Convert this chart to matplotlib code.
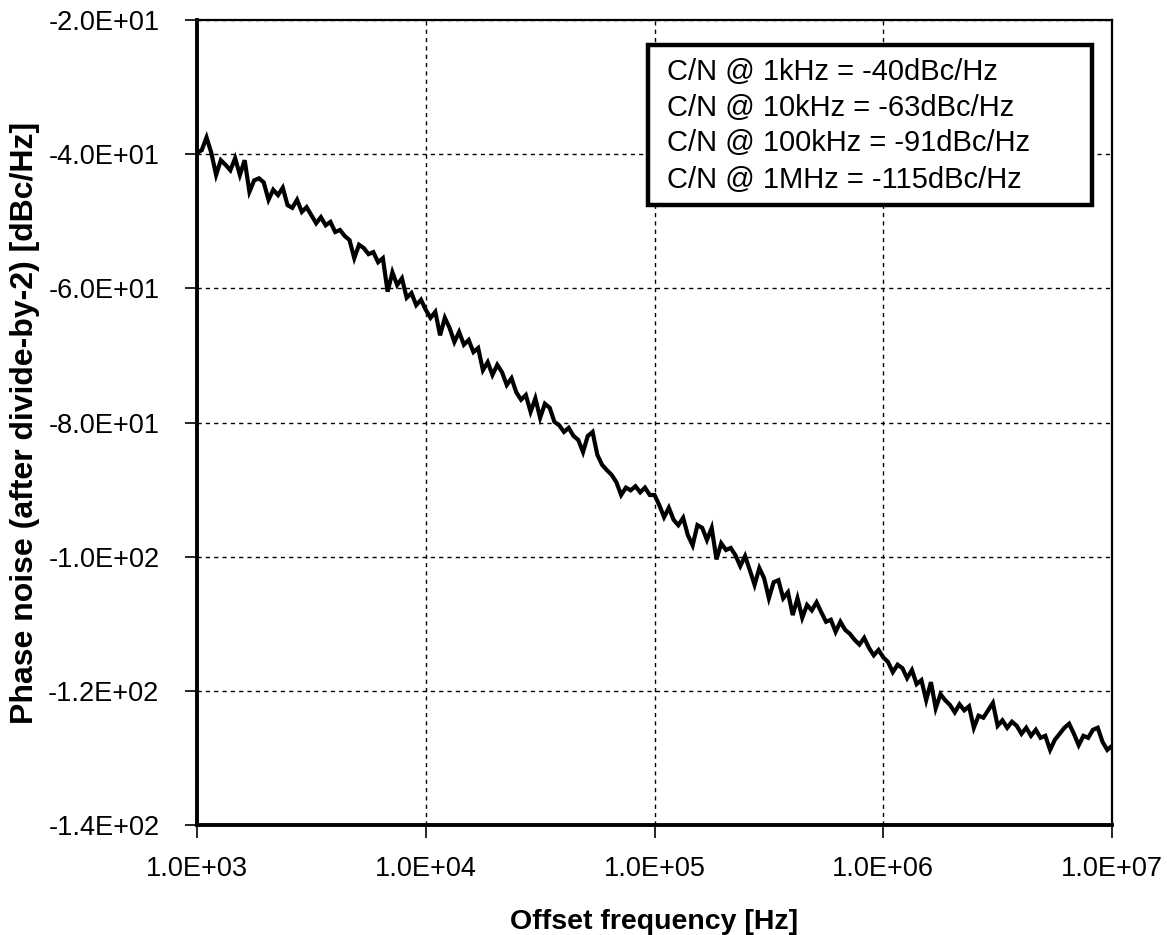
import matplotlib
matplotlib.use("Agg")
import matplotlib.pyplot as plt
from matplotlib.patches import Rectangle
from matplotlib.ticker import FixedLocator, FuncFormatter, NullLocator

plt.rcParams["font.family"] = ["Liberation Sans", "DejaVu Sans"]

# sweep points: 48 per decade, same mantissas in each decade
mantissa = [1.000, 1.049, 1.101, 1.155, 1.212, 1.271, 1.334, 1.399, 1.468, 1.540,
            1.616, 1.695, 1.778, 1.866, 1.957, 2.054, 2.154, 2.260, 2.371, 2.488,
            2.610, 2.738, 2.873, 3.014, 3.162, 3.318, 3.481, 3.652, 3.831, 4.019,
            4.217, 4.424, 4.642, 4.870, 5.109, 5.361, 5.623, 5.900, 6.190, 6.494,
            6.813, 7.148, 7.499, 7.867, 8.254, 8.660, 9.085, 9.532]
decades = [1e3, 1e4, 1e5, 1e6]
f_last = 1e7

# phase noise [dBc/Hz], one list per decade
pn_1k = [-39.8, -39.4, -37.5, -39.8, -43.1, -40.9, -41.6, -42.4, -40.6, -43.1,
         -40.9, -45.6, -43.9, -43.6, -44.2, -46.8, -45.3, -46.1, -45.0, -47.6,
         -48.0, -46.8, -48.6, -47.9, -49.1, -50.3, -49.4, -50.6, -50.1, -51.6,
         -51.3, -52.2, -52.8, -55.5, -53.5, -54.0, -54.9, -54.6, -56.1, -55.5,
         -60.5, -57.6, -59.5, -58.5, -61.4, -60.7, -62.5, -61.7]
pn_10k = [-63.2, -64.4, -63.5, -67.0, -64.4, -65.9, -68.0, -66.5, -68.4, -67.7,
          -69.5, -68.9, -72.2, -71.0, -72.9, -71.4, -72.5, -74.4, -73.4, -75.5,
          -76.6, -75.9, -78.4, -76.4, -79.3, -77.2, -77.8, -79.9, -80.4, -81.4,
          -80.8, -82.0, -82.6, -84.4, -82.0, -81.4, -84.8, -86.3, -87.1, -87.8,
          -88.9, -90.8, -89.7, -90.1, -89.5, -90.4, -89.7, -90.8]
pn_100k = [-90.8, -92.3, -94.1, -92.7, -94.5, -95.3, -94.2, -96.8, -98.3, -95.3,
           -95.7, -97.5, -95.7, -100.4, -98.0, -99.0, -98.7, -99.8, -101.4, -99.9,
           -102.0, -104.2, -101.7, -103.2, -106.2, -103.8, -103.5, -106.2, -105.3, -108.7,
           -106.2, -109.1, -107.2, -108.0, -106.8, -108.3, -109.7, -109.4, -111.2, -109.7,
           -110.9, -111.5, -112.4, -113.1, -112.1, -113.6, -114.7, -113.9]
pn_1M = [-115.0, -115.7, -117.2, -116.1, -116.6, -118.1, -116.9, -119.0, -118.4, -121.4,
         -118.7, -122.6, -120.5, -121.4, -122.1, -123.2, -122.0, -122.9, -122.3, -125.5,
         -123.7, -124.0, -122.9, -121.8, -125.2, -124.4, -125.5, -124.6, -125.2, -126.4,
         -125.5, -126.7, -125.8, -127.0, -126.7, -128.8, -127.3, -126.4, -125.5, -124.9,
         -126.4, -128.1, -126.7, -127.0, -125.8, -125.5, -127.6, -128.8]
pn_last = -128.2

notes = ["C/N @ 1kHz = -40dBc/Hz",
         "C/N @ 10kHz = -63dBc/Hz",
         "C/N @ 100kHz = -91dBc/Hz",
         "C/N @ 1MHz = -115dBc/Hz"]

x_ticks = [1e3, 1e4, 1e5, 1e6, 1e7]
y_ticks = [-140, -120, -100, -80, -60, -40, -20]

freq = [m * d for d in decades for m in mantissa] + [f_last]
pn = pn_1k + pn_10k + pn_100k + pn_1M + [pn_last]

fig = plt.figure(figsize=(11.67, 9.35), dpi=100)
ax = fig.add_axes([0.1688, 0.1176, 0.7841, 0.8610])

ax.plot(freq, pn, color="black", lw=3.0, solid_joinstyle="miter")

ax.set_xscale("log")
ax.set_xlim(1e3, 1e7)
ax.set_ylim(-140, -20)
ax.xaxis.set_major_locator(FixedLocator(x_ticks))
ax.xaxis.set_minor_locator(NullLocator())
ax.yaxis.set_major_locator(FixedLocator(y_ticks))
sci = FuncFormatter(lambda v, p: f"{v:.1E}")
ax.xaxis.set_major_formatter(sci)
ax.yaxis.set_major_formatter(sci)

ax.grid(True, color="black", lw=1.0, linestyle=(0, (3, 3)))
ax.tick_params(axis="both", direction="out", length=9, width=1.2,
               labelsize=19.5)
ax.tick_params(axis="y", pad=18)
ax.tick_params(axis="x", pad=13)

for side in ["left", "bottom"]:
    ax.spines[side].set_linewidth(2.8)
for side in ["top", "right"]:
    ax.spines[side].set_linewidth(1.6)

ax.set_xlabel("Offset frequency [Hz]", fontsize=20.5, fontweight="bold", labelpad=20)
ax.set_ylabel("Phase noise (after divide-by-2) [dBc/Hz]", fontsize=23,
              fontweight="bold", labelpad=6)

# annotation box
ax.add_patch(Rectangle((0.4929, 0.7702), 0.4852, 0.1987, transform=ax.transAxes,
                       facecolor="white", edgecolor="black", lw=3.2, zorder=5))
for txt, yy in zip(notes, [0.9354, 0.8907, 0.8472, 0.8012]):
    ax.text(0.5137, yy, txt, transform=ax.transAxes, fontsize=21,
            va="center", ha="left", zorder=6)

fig.savefig("out.png", dpi=100, facecolor="white")
